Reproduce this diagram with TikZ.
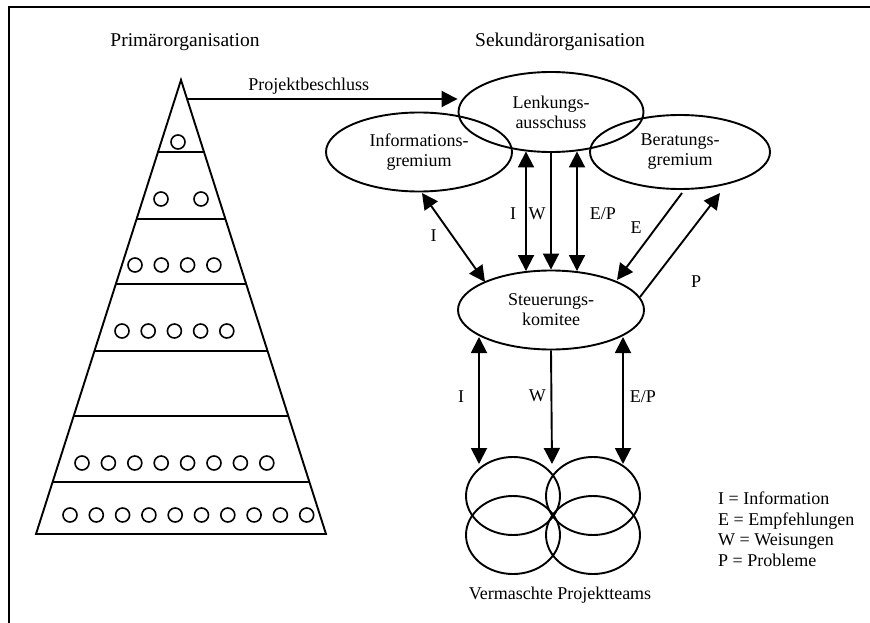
\documentclass[tikz,border=0pt]{standalone}
\usepackage{fontspec}
\setmainfont{Liberation Serif}
\usetikzlibrary{arrows.meta,shapes.geometric}

\tikzset{
  body/.style={font=\fontsize{18}{20}\selectfont},
  heading/.style={font=\fontsize{19.5}{22}\selectfont},
  gremium/.style={ellipse, draw, line width=1.9pt, inner sep=0pt, align=center, body},
  team/.style={ellipse, draw, line width=1.9pt, inner sep=0pt,
    minimum width=94pt, minimum height=78pt},
  member/.style={line width=1.6pt},
  flow/.style={line width=1.9pt, -{Triangle[length=16pt,width=16pt]}},
  both/.style={line width=1.9pt, {Triangle[length=16pt,width=16pt]}-{Triangle[length=16pt,width=16pt]}},
  lbl/.style={body, inner sep=1pt}
}

\begin{document}
\begin{tikzpicture}[x=1pt,y=-1pt]
\useasboundingbox (0,0) rectangle (870,623);

% open frame: left and top edges
\draw[line width=1.6pt] (9,623) -- (9,7) -- (870,7);

% headings
\node[heading] (prim) at (185,42) {Primärorganisation};
\node[heading] (sek) at (560,42) {Sekundärorganisation};

% hierarchy pyramid of the primary organisation
\coordinate (apex) at (181,80);
\coordinate (bl) at (36,534);
\coordinate (br) at (326,534);
\draw[line width=1.9pt, line join=miter] (bl) -- (apex) -- (br) -- cycle;
\foreach \yy in {152,219,284,351,416,482} {
  \pgfmathsetmacro\hw{(\yy-80)/454*145}
  \draw[line width=1.9pt] (181-\hw,\yy) -- (181+\hw,\yy);
}

% staff members per level
\draw[member] (178,142) circle (7);
\foreach \xx in {161,201} \draw[member] (\xx,199) circle (7);
\foreach \i in {0,...,3} \draw[member] (135+26.3*\i,265) circle (7);
\foreach \i in {0,...,4} \draw[member] (122+26.2*\i,331) circle (7);
\foreach \i in {0,...,7} \draw[member] (82+26.4*\i,463) circle (7);
\foreach \i in {0,...,9} \draw[member] (70+26.3*\i,515) circle (7);

% committees of the secondary organisation
\node[gremium, minimum width=185pt, minimum height=80pt] (lenk) at (551,112) {Lenkungs-\\ausschuss};
\node[gremium, minimum width=186pt, minimum height=79pt] (info) at (419,152) {Informations-\\gremium};
\node[gremium, minimum width=180pt, minimum height=74pt] (berat) at (680,152) {Beratungs-\\gremium};
\node[gremium, minimum width=186pt, minimum height=79pt] (steuer) at (551,310) {Steuerungs-\\komitee};

% meshed project teams
\node[team] (t1) at (513,496) {};
\node[team] (t2) at (593,496) {};
\node[team] (t3) at (513,535) {};
\node[team] (t4) at (593,535) {};
\node[body] (teams) at (560,595) {Vermaschte Projektteams};

% project decision
\coordinate (pb) at (187,99);
\draw[flow] (pb) -- (pb -| lenk.west)
  node[lbl, pos=0.45, above=3pt] {Projektbeschluss};

% steering board <-> steering committee
\draw[both] ([xshift=-25pt,yshift=1.5pt]lenk.south) -- ([xshift=-25pt,yshift=-1.5pt]steuer.north)
  node[lbl, pos=0.52, left=8pt] {I};
\draw[flow] (lenk.south) -- (steuer.north)
  node[lbl, pos=0.52, left=3.5pt] {W};
\draw[both] ([xshift=26pt,yshift=1.5pt]lenk.south) -- ([xshift=26pt,yshift=-1.5pt]steuer.north)
  node[lbl, pos=0.52, right=11pt] {E/P};

% information board <-> steering committee
\draw[both] ([xshift=3pt,yshift=-41pt]info.center) -- ([xshift=-66pt,yshift=28pt]steuer.center)
  node[lbl, pos=0.5, xshift=-20pt, yshift=2pt] {I};

% advisory board -> steering committee and back
\draw[flow] ([xshift=2pt,yshift=-41pt]berat.center) -- ([xshift=66pt,yshift=30pt]steuer.center)
  node[lbl, pos=0.4, left=12.5pt] {E};
\draw[flow] ([xshift=89pt,yshift=13pt]steuer.center) -- ([xshift=40pt,yshift=-41pt]berat.center)
  node[lbl, pos=0.3, xshift=32pt, yshift=-16pt] {P};

% steering committee <-> project teams
\draw[both] ([xshift=-72pt,yshift=-27pt]steuer.center) -- ([xshift=-34pt,yshift=32pt]t1.center)
  node[lbl, pos=0.47, left=13pt] {I};
\draw[flow] (steuer.south) -- ([xshift=39pt,yshift=32pt]t1.center)
  node[lbl, pos=0.4, left=3.5pt] {W};
\draw[both] ([xshift=72pt,yshift=-27pt]steuer.center) -- ([xshift=30pt,yshift=32pt]t2.center)
  node[lbl, pos=0.47, right=5pt] {E/P};

% legend
\node[anchor=west, align=left, font=\fontsize{18}{20.5}\selectfont, inner sep=0pt] (legend) at (718,529)
  {I = Information\\E = Empfehlungen\\W = Weisungen\\P = Probleme};
\end{tikzpicture}
\end{document}
